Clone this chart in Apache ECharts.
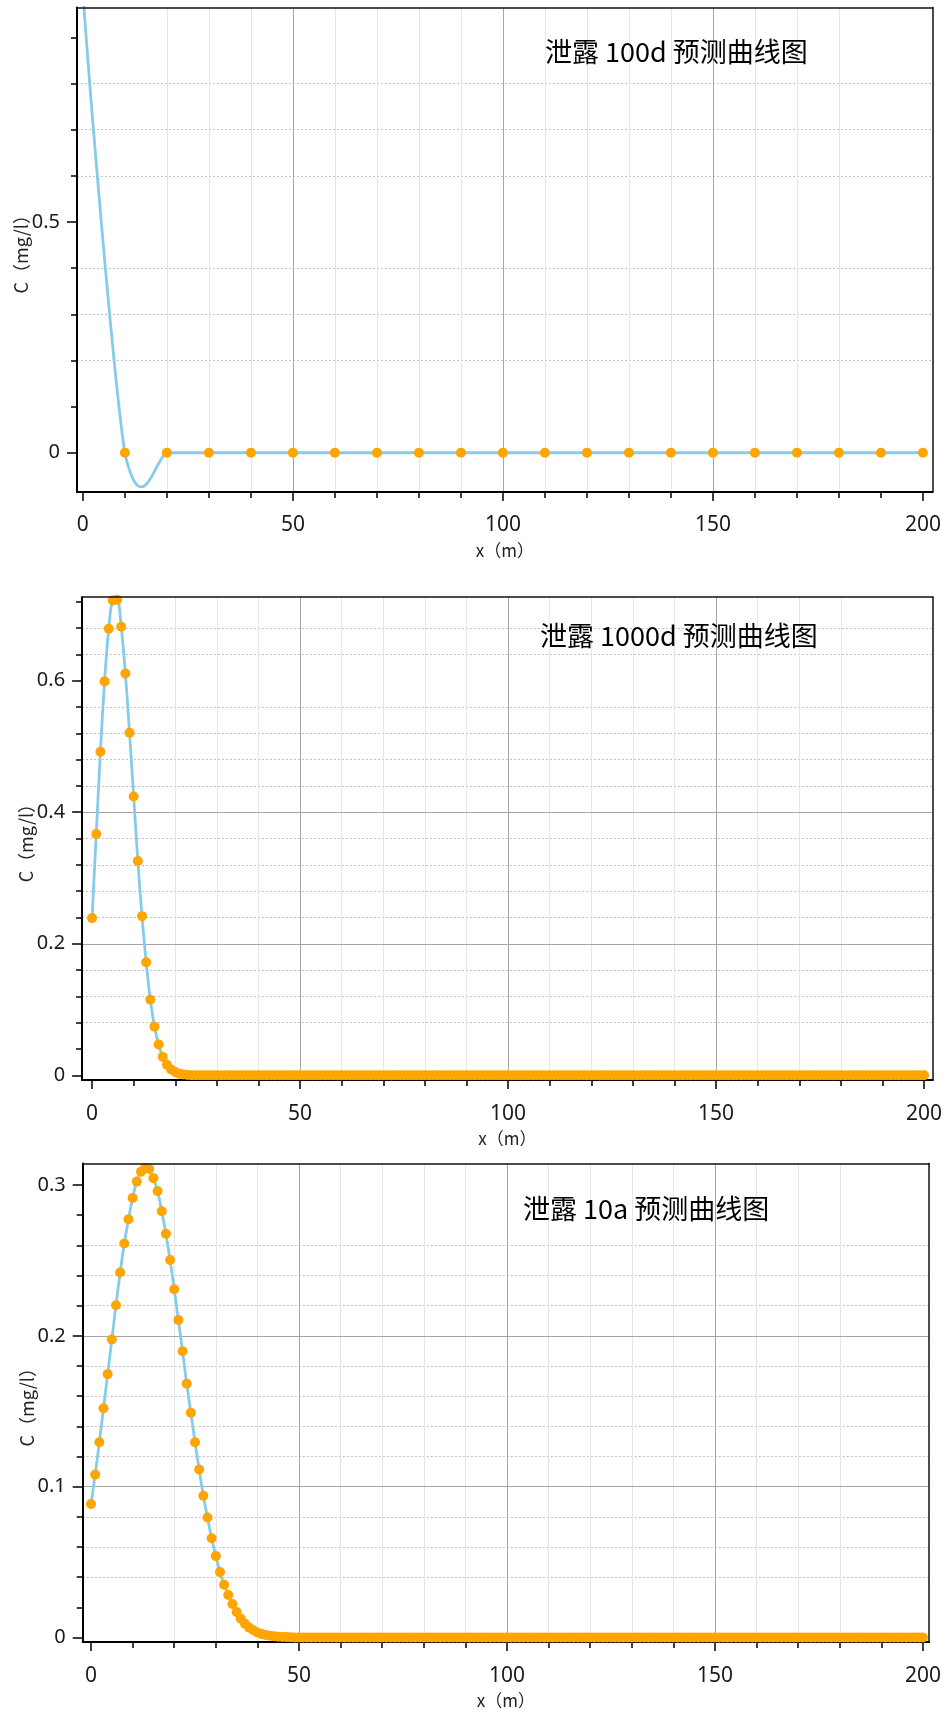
<!DOCTYPE html>
<html>
<head>
<meta charset="utf-8">
<script src="https://cdn.jsdelivr.net/npm/echarts@6/dist/echarts.min.js"></script>
<style>
html,body{margin:0;padding:0;background:#fff;}
#c{width:947px;height:1718px;}
</style>
</head>
<body>
<div id="c"></div>
<script>
// ---------------- data ----------------
const titles = ['泄露 100d 预测曲线图', '泄露 1000d 预测曲线图', '泄露 10a 预测曲线图'];
const xAxisName = 'x（m）';
const yAxisName = 'C（mg/l）';

const xMajorTicks = [0, 50, 100, 150, 200];
const xMinorTicks = [10, 20, 30, 40, 60, 70, 80, 90, 110, 120, 130, 140, 160, 170, 180, 190];

// panel 1 : 100 d
const dotX100 = [0, 10, 20, 30, 40, 50, 60, 70, 80, 90, 100, 110, 120, 130, 140, 150, 160, 170, 180, 190, 200];
const dotC100 = [0.995, 0, 0, 0, 0, 0, 0, 0, 0, 0, 0, 0, 0, 0, 0, 0, 0, 0, 0, 0, 0];
const curveX100 = [0, 1, 2, 3, 4, 5, 6, 7, 8, 9, 10, 11, 12, 13, 14, 15, 16, 17, 18, 19, 20,
  30, 40, 50, 60, 70, 80, 90, 100, 110, 120, 130, 140, 150, 160, 170, 180, 190, 200];
const curveC100 = [0.995, 0.874, 0.757, 0.647, 0.540, 0.436, 0.336, 0.240, 0.150, 0.068, 0,
  -0.035, -0.058, -0.071, -0.074, -0.069, -0.057, -0.041, -0.024, -0.009, 0,
  0, 0, 0, 0, 0, 0, 0, 0, 0, 0, 0, 0, 0, 0, 0, 0, 0, 0];
const yMajor100 = [0, 0.5];
const yMinor100 = [0.1, 0.2, 0.3, 0.4, 0.6, 0.7, 0.8, 0.9];

// panels 2 and 3 : x every metre
const xFine = [
  0,1,2,3,4,5,6,7,8,9,
  10,11,12,13,14,15,16,17,18,19,
  20,21,22,23,24,25,26,27,28,29,
  30,31,32,33,34,35,36,37,38,39,
  40,41,42,43,44,45,46,47,48,49,
  50,51,52,53,54,55,56,57,58,59,
  60,61,62,63,64,65,66,67,68,69,
  70,71,72,73,74,75,76,77,78,79,
  80,81,82,83,84,85,86,87,88,89,
  90,91,92,93,94,95,96,97,98,99,
  100,101,102,103,104,105,106,107,108,109,
  110,111,112,113,114,115,116,117,118,119,
  120,121,122,123,124,125,126,127,128,129,
  130,131,132,133,134,135,136,137,138,139,
  140,141,142,143,144,145,146,147,148,149,
  150,151,152,153,154,155,156,157,158,159,
  160,161,162,163,164,165,166,167,168,169,
  170,171,172,173,174,175,176,177,178,179,
  180,181,182,183,184,185,186,187,188,189,
  190,191,192,193,194,195,196,197,198,199,
  200];

// panel 2 : 1000 d
const c1000 = [
  0.239,0.367,0.492,0.599,0.679,0.722,0.723,0.682,0.611,0.521,
  0.424,0.326,0.242,0.172,0.115,0.074,0.047,0.028,0.016,0.009,
  0.005,0.0025,0.0012,0.0005,0.0002,0,0,0,0,0,
  0,0,0,0,0,0,0,0,0,0,
  0,0,0,0,0,0,0,0,0,0,
  0,0,0,0,0,0,0,0,0,0,
  0,0,0,0,0,0,0,0,0,0,
  0,0,0,0,0,0,0,0,0,0,
  0,0,0,0,0,0,0,0,0,0,
  0,0,0,0,0,0,0,0,0,0,
  0,0,0,0,0,0,0,0,0,0,
  0,0,0,0,0,0,0,0,0,0,
  0,0,0,0,0,0,0,0,0,0,
  0,0,0,0,0,0,0,0,0,0,
  0,0,0,0,0,0,0,0,0,0,
  0,0,0,0,0,0,0,0,0,0,
  0,0,0,0,0,0,0,0,0,0,
  0,0,0,0,0,0,0,0,0,0,
  0,0,0,0,0,0,0,0,0,0,
  0,0,0,0,0,0,0,0,0,0,
  0];
const yMajor1000 = [0, 0.2, 0.4, 0.6];
const yMinor1000 = [0.04,0.08,0.12,0.16,0.24,0.28,0.32,0.36,0.44,0.48,0.52,0.56,0.64,0.68,0.72];

// panel 3 : 10 a
const c10a = [
  0.0885,0.108,0.1295,0.152,0.1746,0.1975,0.2202,0.2419,0.2612,0.2773,
  0.2913,0.3022,0.3087,0.3112,0.3105,0.3045,0.2959,0.2826,0.2677,0.2503,
  0.2308,0.2105,0.1898,0.1683,0.149,0.1295,0.1114,0.094,0.0796,0.0658,
  0.054,0.0434,0.035,0.0282,0.0222,0.0169,0.0125,0.0092,0.0066,0.0048,
  0.0034,0.0024,0.0017,0.0012,0.0008,0.0006,0.0004,0.0003,0.0002,0.0001,
  0,0,0,0,0,0,0,0,0,0,
  0,0,0,0,0,0,0,0,0,0,
  0,0,0,0,0,0,0,0,0,0,
  0,0,0,0,0,0,0,0,0,0,
  0,0,0,0,0,0,0,0,0,0,
  0,0,0,0,0,0,0,0,0,0,
  0,0,0,0,0,0,0,0,0,0,
  0,0,0,0,0,0,0,0,0,0,
  0,0,0,0,0,0,0,0,0,0,
  0,0,0,0,0,0,0,0,0,0,
  0,0,0,0,0,0,0,0,0,0,
  0,0,0,0,0,0,0,0,0,0,
  0,0,0,0,0,0,0,0,0,0,
  0,0,0,0,0,0,0,0,0,0,
  0,0,0,0,0,0,0,0,0,0,
  0];
const yMajor10a = [0, 0.1, 0.2, 0.3];
const yMinor10a = [0.02,0.04,0.06,0.08,0.12,0.14,0.16,0.18,0.22,0.24,0.26,0.28];

// ---------------- layout / style ----------------
const panels = [
  { grid: {left: 77, top: 7.5, width: 855.6, height: 484.5}, xr: [-1.4, 202.3], yr: [-0.085, 0.9645],
    yMajStep: 0.5, yMinStep: 0.1, yMaj: yMajor100, yMin: yMinor100,
    lx: curveX100, ly: curveC100, dx: dotX100, dy: dotC100, title: {left: 545, top: 38} },
  { grid: {left: 82.1, top: 597.2, width: 850.7, height: 482.9}, xr: [-2.4, 202.1], yr: [-0.0073, 0.727],
    yMajStep: 0.2, yMinStep: 0.04, yMaj: yMajor1000, yMin: yMinor1000,
    lx: xFine, ly: c1000, dx: xFine, dy: c1000, title: {left: 540, top: 622} },
  { grid: {left: 82.7, top: 1163.5, width: 846.5, height: 478.6}, xr: [-2.0, 201.5], yr: [-0.003, 0.3142],
    yMajStep: 0.1, yMinStep: 0.02, yMaj: yMajor10a, yMin: yMinor10a,
    lx: xFine, ly: c10a, dx: xFine, dy: c10a, title: {left: 523, top: 1195} }
];

const NUM_FONT = 'Noto Sans';
const CJK_FONT = 'Noto Sans CJK SC';

function inList(list, v) { return list.some(t => Math.abs(t - v) < 1e-9); }
function fmtFor(list) { return v => inList(list, v) ? String(+(+v).toFixed(4)) : ''; }
function pairs(xs, ys) { const n = Math.min(xs.length, ys.length); const out = []; for (let i = 0; i < n; i++) out.push([xs[i], ys[i]]); return out; }

const grid = [], xAxis = [], yAxis = [], series = [], title = [];

panels.forEach((p, i) => {
  grid.push(Object.assign({show: false, containLabel: false, outerBoundsMode: 'none'}, p.grid));
  title.push({
    text: titles[i], left: p.title.left, top: p.title.top, padding: 0,
    textStyle: {fontFamily: CJK_FONT, fontSize: 27, fontWeight: 'normal', color: '#000'}
  });
  const xi = xAxis.length, yi = yAxis.length;
  // major x
  xAxis.push({
    type: 'value', gridIndex: i, min: p.xr[0], max: p.xr[1], position: 'bottom', z: 2,
    splitNumber: 4, minInterval: 50, maxInterval: 50,
    name: xAxisName, nameLocation: 'middle', nameGap: 50, nameMoveOverlap: false,
    nameTextStyle: {fontFamily: CJK_FONT, fontSize: 17, color: '#222'},
    axisLine: {show: true, onZero: false, lineStyle: {color: '#000', width: 2}},
    axisTick: {show: true, inside: false, length: 9, customValues: xMajorTicks, lineStyle: {color: '#000', width: 1.5}},
    axisLabel: {show: true, customValues: xMajorTicks, margin: 23, fontFamily: NUM_FONT, fontSize: 21, color: '#1a1a1a', formatter: fmtFor(xMajorTicks)},
    splitLine: {show: true, showMinLine: false, showMaxLine: false, lineStyle: {color: '#a6a6a6', width: 1}}
  });
  // minor x
  xAxis.push({
    type: 'value', gridIndex: i, min: p.xr[0], max: p.xr[1], position: 'bottom', z: 1,
    splitNumber: 20, minInterval: 10, maxInterval: 10,
    axisLine: {show: false, onZero: false},
    axisTick: {show: true, inside: false, length: 6, customValues: xMinorTicks, lineStyle: {color: '#000', width: 1.5}},
    axisLabel: {show: false},
    splitLine: {show: true, showMinLine: false, showMaxLine: false, lineStyle: {color: '#e6e6e6', width: 1}}
  });
  // top frame
  xAxis.push({
    type: 'value', gridIndex: i, min: p.xr[0], max: p.xr[1], position: 'top', z: 8,
    axisLine: {show: true, onZero: false, lineStyle: {color: '#111', width: 1.5}},
    axisTick: {show: false}, axisLabel: {show: false}, splitLine: {show: false}
  });
  // major y
  yAxis.push({
    type: 'value', gridIndex: i, min: p.yr[0], max: p.yr[1], position: 'left', z: 2,
    splitNumber: 4, minInterval: p.yMajStep, maxInterval: p.yMajStep,
    name: yAxisName, nameLocation: 'middle', nameGap: 47, nameRotate: 90, nameMoveOverlap: false,
    nameTextStyle: {fontFamily: CJK_FONT, fontSize: 18, color: '#222'},
    axisLine: {show: true, onZero: false, lineStyle: {color: '#000', width: 2}},
    axisTick: {show: true, inside: false, length: 10, customValues: p.yMaj, lineStyle: {color: '#000', width: 1.5}},
    axisLabel: {show: true, customValues: p.yMaj, margin: 17, fontFamily: NUM_FONT, fontSize: 20, color: '#1a1a1a', formatter: fmtFor(p.yMaj)},
    splitLine: {show: true, showMinLine: false, showMaxLine: false, lineStyle: {color: '#a6a6a6', width: 1}}
  });
  // minor y
  yAxis.push({
    type: 'value', gridIndex: i, min: p.yr[0], max: p.yr[1], position: 'left', z: 1,
    splitNumber: 12, minInterval: p.yMinStep, maxInterval: p.yMinStep,
    axisLine: {show: false, onZero: false},
    axisTick: {show: true, inside: false, length: 6, customValues: p.yMin, lineStyle: {color: '#000', width: 1.5}},
    axisLabel: {show: false},
    splitLine: {show: true, showMinLine: false, showMaxLine: false, lineStyle: {color: '#c2c2c2', width: 1, type: [2, 2]}}
  });
  // right frame
  yAxis.push({
    type: 'value', gridIndex: i, min: p.yr[0], max: p.yr[1], position: 'right', z: 8,
    axisLine: {show: true, onZero: false, lineStyle: {color: '#111', width: 1.5}},
    axisTick: {show: false}, axisLabel: {show: false}, splitLine: {show: false}
  });

  series.push({
    type: 'line', xAxisIndex: xi, yAxisIndex: yi, data: pairs(p.lx, p.ly),
    showSymbol: false, smooth: 0.35, clip: true, z: 5, silent: true,
    lineStyle: {color: '#87cbea', width: 2.8}
  });
  series.push({
    type: 'scatter', xAxisIndex: xi, yAxisIndex: yi, data: pairs(p.dx, p.dy),
    symbol: 'circle', symbolSize: 10, clip: true, z: 6, silent: true,
    itemStyle: {color: '#ffa500', opacity: 1}
  });
});

const chart = echarts.init(document.getElementById('c'), null, {renderer: 'canvas'});
chart.setOption({
  animation: false,
  backgroundColor: '#ffffff',
  textStyle: {fontFamily: NUM_FONT},
  title, grid, xAxis, yAxis, series
});
</script>
</body>
</html>
